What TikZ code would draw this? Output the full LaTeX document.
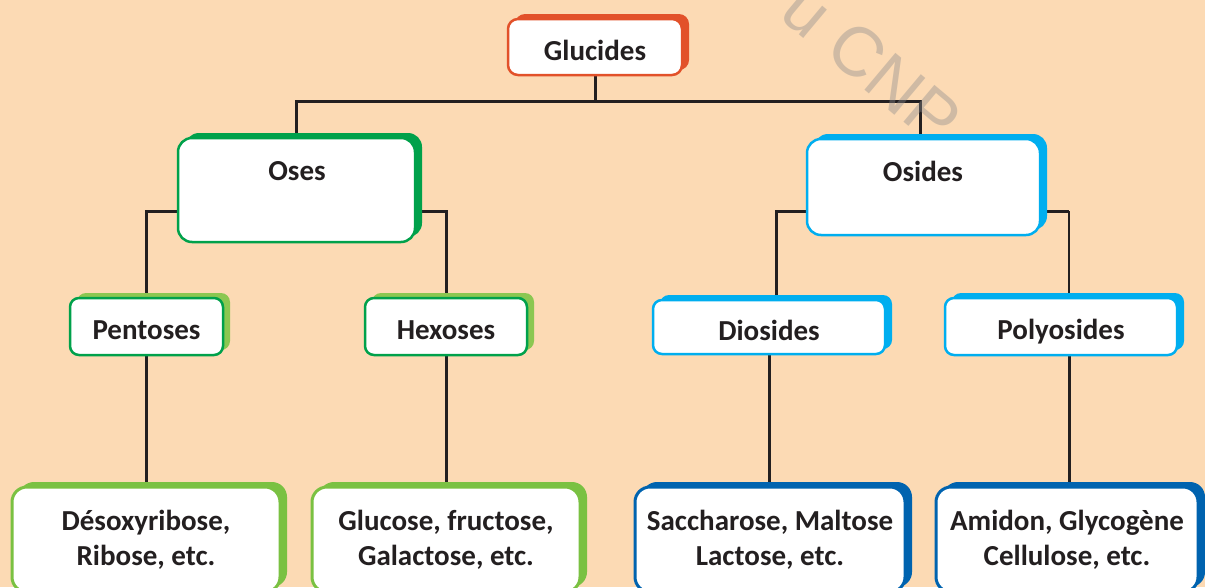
\documentclass[tikz,border=0pt]{standalone}
\usepackage{fontspec}
\setmainfont{Carlito}
\setsansfont{Liberation Sans}
\usetikzlibrary{shadows}
\definecolor{bgc}{HTML}{FCDAB4}
\definecolor{orangeC}{HTML}{E2512A}
\definecolor{greenD}{HTML}{00A14B}
\definecolor{greenL}{HTML}{7AC142}
\definecolor{greenS}{HTML}{8BC751}
\definecolor{cyanC}{HTML}{00AEEF}
\definecolor{blueD}{HTML}{0063AF}
\definecolor{txt}{HTML}{231F20}
\definecolor{wmark}{HTML}{8C8C8C}
\pgfdeclarelayer{bglayer}
\pgfsetlayers{bglayer,main}
\begin{document}
\begin{tikzpicture}[x=1pt,y=-1pt,
  box/.style={draw, fill=white, line width=2.5pt, text=txt,
    font=\bfseries\fontsize{29}{35}\selectfont, align=center, inner sep=0pt},
  single/.style={text height=26pt, text depth=0pt},
  shad/.style={general shadow={shadow xshift=7pt, shadow yshift=5pt, fill=#1, draw=none, opacity=1}},
  lbl/.style={text=txt, font=\bfseries\fontsize{29}{35}\selectfont, inner sep=0pt, anchor=base},
  conn/.style={draw=txt, line width=3pt},
  thin conn/.style={draw=txt, line width=1.8pt},
  wm/.style={text=wmark, opacity=0.4, font=\sffamily\fontsize{70}{72}\selectfont, inner sep=0pt}]
\begin{pgfonlayer}{bglayer}
\fill[bgc] (0,0) rectangle (1205,587);
\end{pgfonlayer}
\useasboundingbox (0,0) rectangle (1205,587);
\clip (0,0) rectangle (1205,587);

% top
\node[box, single, draw=orangeC, shad=orangeC, rounded corners=10pt, minimum width=174pt, minimum height=56pt] (glu) at (595,47) {Glucides};
% level 2
\node[box, draw=greenD, shad=greenD, rounded corners=14pt, minimum width=237pt, minimum height=104pt] (oses) at (296.5,190) {};
\node[lbl] (osest) at (297,180) {Oses};
\node[box, draw=cyanC, shad=cyanC, rounded corners=14pt, minimum width=233pt, minimum height=96pt] (osides) at (923.5,187) {};
\node[lbl] (osidest) at (923,181) {Osides};
% level 3
\node[box, single, draw=greenD, shad=greenS, rounded corners=9pt, minimum width=153pt, minimum height=57pt] (pent) at (146.5,326.5) {Pentoses};
\node[box, single, draw=greenD, shad=greenS, rounded corners=9pt, minimum width=162pt, minimum height=57pt] (hex) at (446,326.5) {Hexoses};
\node[box, single, draw=cyanC, shad=cyanC, rounded corners=9pt, minimum width=232pt, minimum height=54pt] (dio) at (769,327) {Diosides};
\node[box, single, draw=cyanC, shad=cyanC, rounded corners=9pt, minimum width=232pt, minimum height=57pt] (poly) at (1061,326.5) {Polyosides};
% level 4
\node[box, line width=3pt, draw=greenL, shad=greenL, rounded corners=15pt, minimum width=268pt, minimum height=105pt] (deso) at (146,539.5) {Désoxyribose,\\Ribose, etc.};
\node[box, line width=3pt, draw=greenL, shad=greenL, rounded corners=15pt, minimum width=268pt, minimum height=105pt] (gluc) at (446,539.5) {Glucose, fructose,\\Galactose, etc.};
\node[box, line width=3pt, draw=blueD, shad=blueD, rounded corners=15pt, minimum width=270pt, minimum height=105pt] (sacc) at (770,539.5) {Saccharose, Maltose\\Lactose, etc.};
\node[box, line width=3pt, draw=blueD, shad=blueD, rounded corners=15pt, minimum width=262pt, minimum height=105pt] (ami) at (1067,539.5) {Amidon, Glycogène\\Cellulose, etc.};

% connectors
\begin{pgfonlayer}{bglayer}
\coordinate (bar) at (595,101);
\draw[conn] (glu.south) -- (bar);
\draw[conn] (oses.north) |- (bar) -| (920,0 |- osides.north);
\draw[conn] (oses.west |- 0,211) -| (pent.north);
\draw[conn] (oses.east |- 0,211) -| (hex.north);
\draw[conn] (osides.west |- 0,211) -| (776,0 |- dio.north);
\draw[conn] (osides.east |- 0,211) -- (1069,211);
\draw[thin conn] (1069,211) -- (1069,0 |- poly.north);
\draw[conn] (pent.south) -- (pent.south |- deso.north);
\draw[conn] (hex.south) -- (hex.south |- gluc.north);
\draw[conn] (dio.south) -- (dio.south |- sacc.north);
\draw[conn] (1069,0 |- poly.south) -- (1069,0 |- ami.north);
\end{pgfonlayer}

% watermark
\node[wm, rotate=-40] (wmk) at (872,64) {u CNP};
\end{tikzpicture}
\end{document}
